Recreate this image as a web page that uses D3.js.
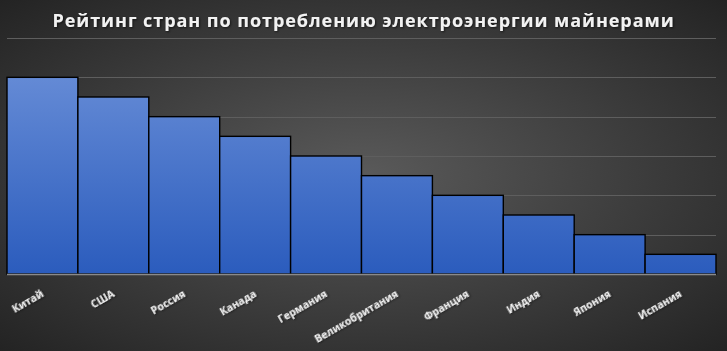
<!DOCTYPE html>
<html>
<head>
<meta charset="utf-8">
<script src="https://cdnjs.cloudflare.com/ajax/libs/d3/7.8.5/d3.min.js"></script>
<style>
  body { margin: 0; background: #333; }
  svg { display: block; }
</style>
</head>
<body>
<script>
var width = 727,
    height = 351;

var countries = ["Китай", "США", "Россия", "Канада", "Германия", "Великобритания", "Франция", "Индия", "Япония", "Испания"];
var values = [10, 9, 8, 7, 6, 5, 4, 3, 2, 1];
var yTicks = [0, 2, 4, 6, 8, 10, 12];
var title = "Рейтинг стран по потреблению электроэнергии майнерами";

var margin = {top: 38, right: 11, bottom: 77, left: 7};

var svg = d3.select("body")
    .append("svg")
    .attr("width", width)
    .attr("height", height);

var defs = svg.append("defs");

var bg = defs.append("radialGradient")
    .attr("id", "bg")
    .attr("cx", "50%").attr("cy", "50%").attr("r", "75%");
bg.append("stop").attr("offset", "0%").attr("stop-color", "#5a5a5a");
bg.append("stop").attr("offset", "100%").attr("stop-color", "#202020");

var x = d3.scaleBand()
    .domain(countries)
    .range([margin.left, width - margin.right])
    .padding(0);

var y = d3.scaleLinear()
    .domain([0, 12])
    .range([height - margin.bottom, margin.top]);

var barGrad = defs.append("linearGradient")
    .attr("id", "bar")
    .attr("gradientUnits", "userSpaceOnUse")
    .attr("x1", 0).attr("x2", 0)
    .attr("y1", y(12)).attr("y2", y(0));
barGrad.append("stop").attr("offset", "0%").attr("stop-color", "#6f93da");
barGrad.append("stop").attr("offset", "100%").attr("stop-color", "#2b5cbd");

var shadow = defs.append("filter").attr("id", "shadow")
    .attr("x", "-5%").attr("y", "-20%").attr("width", "110%").attr("height", "150%");
shadow.append("feDropShadow")
    .attr("dx", 1).attr("dy", 1).attr("stdDeviation", 1)
    .attr("flood-color", "#000").attr("flood-opacity", 0.6);

svg.append("rect")
    .attr("width", width)
    .attr("height", height)
    .attr("fill", "url(#bg)");

// grid
svg.append("g")
    .selectAll("line")
    .data(yTicks.slice(1))
    .enter().append("line")
      .attr("x1", x.range()[0])
      .attr("x2", x.range()[1])
      .attr("y1", function(d) { return Math.round(y(d)) + 0.5; })
      .attr("y2", function(d) { return Math.round(y(d)) + 0.5; })
      .attr("stroke", "#5e5e5e")
      .attr("stroke-width", 1);

// bars
svg.append("g")
    .selectAll("rect")
    .data(values)
    .enter().append("rect")
      .attr("x", function(d, i) { return x(countries[i]); })
      .attr("y", function(d) { return y(d); })
      .attr("width", x.bandwidth())
      .attr("height", function(d) { return y(0) - y(d); })
      .attr("fill", "url(#bar)")
      .attr("stroke", "#000")
      .attr("stroke-width", 1.4);

// baseline
svg.append("line")
    .attr("x1", x.range()[0])
    .attr("x2", x.range()[1])
    .attr("y1", y(0) + 0.5)
    .attr("y2", y(0) + 0.5)
    .attr("stroke", "#8a8a8a")
    .attr("stroke-width", 1.5);

// labels
svg.append("g")
    .selectAll("text")
    .data(countries)
    .enter().append("text")
      .attr("transform", function(d) {
        return "translate(" + (x(d) + x.bandwidth() / 2 + 2) + "," + (y(0) + 22) + ") rotate(-30)";
      })
      .attr("text-anchor", "end")
      .attr("font-family", "'Open Sans', sans-serif")
      .attr("font-weight", "bold")
      .attr("font-size", "10.5px")
      .attr("fill", "#f2f2f2")
      .attr("filter", "url(#shadow)")
      .text(function(d) { return d; });

svg.append("text")
    .attr("x", width / 2)
    .attr("y", 27)
    .attr("text-anchor", "middle")
    .attr("font-family", "'Open Sans', sans-serif")
    .attr("font-weight", "bold")
    .attr("font-size", "18px")
    .attr("letter-spacing", "0.95px")
    .attr("fill", "#f2f2f2")
    .attr("filter", "url(#shadow)")
    .text(title);
</script>
</body>
</html>
